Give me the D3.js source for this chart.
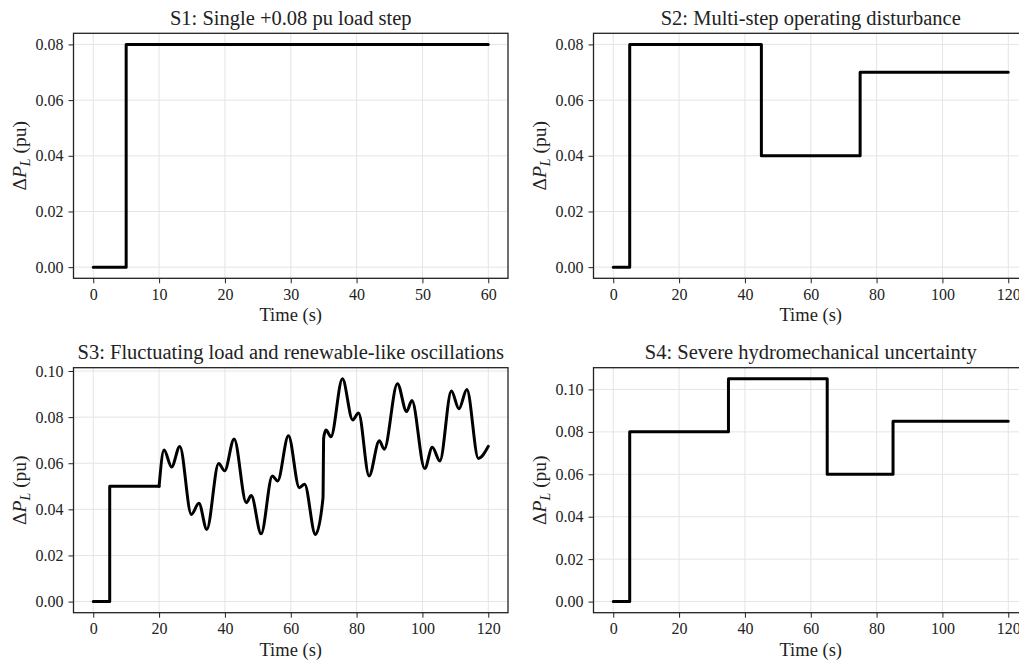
<!DOCTYPE html>
<html>
<head>
<meta charset="utf-8">
<script src="https://cdn.jsdelivr.net/npm/d3@7"></script>
<style>
  body { margin: 0; background: #fff; }
  svg { display: block; font-family: "Liberation Serif", "Times New Roman", serif; }
  .grid line { stroke: #e4e4e4; stroke-width: 1; }
  .axis line { stroke: #222; stroke-width: 1; }
  .axis text { font-size: 16px; fill: #222; font-family: "Liberation Serif", serif; }
</style>
</head>
<body>
<svg></svg>
<script>
// S1: single step
var s1Time = [0, 5, 60];
var s1Value = [0, 0.08, 0.08];

// S2: multi-step
var s2Time = [0, 5, 45, 75, 120];
var s2Value = [0, 0.08, 0.04, 0.07, 0.07];

var s3StepTime = [0, 5, 20];
var s3StepValue = [0, 0.05, 0.05];
var s3WaveTime = [20, 21.5, 23.8, 26.3, 29.8, 32.1, 34.5, 38.1, 39.9, 42.8,
                  46.5, 48.0, 51.0, 54.4, 56.0, 59.3, 62.6, 64.2, 67.5, 69.8,
                  70.0, 70.7, 72.2, 75.7, 78.8, 80.6, 83.8, 86.9, 88.4, 92.4,
                  95.2, 96.8, 100.7, 103.0, 105.3, 108.8, 111.1, 113.5, 117.0, 120];
var s3WaveValue = [0.050, 0.0657, 0.0584, 0.0673, 0.0378, 0.0426, 0.0313, 0.0599, 0.0567, 0.0705,
                   0.0429, 0.0460, 0.0294, 0.0545, 0.0523, 0.0719, 0.0494, 0.0509, 0.0291, 0.0450,
                   0.0710, 0.0744, 0.0715, 0.0966, 0.0788, 0.0818, 0.0545, 0.0697, 0.0661, 0.0945,
                   0.0824, 0.0872, 0.0577, 0.0669, 0.0610, 0.0913, 0.0836, 0.0920, 0.0621, 0.0673];

// S4: severe uncertainty steps
var s4Time = [0, 5, 35, 65, 85, 120];
var s4Value = [0, 0.08, 0.105, 0.06, 0.085, 0.085];

var titles = ["S1: Single +0.08 pu load step",
              "S2: Multi-step operating disturbance",
              "S3: Fluctuating load and renewable-like oscillations",
              "S4: Severe hydromechanical uncertainty"];
var xTicks60 = [0, 10, 20, 30, 40, 50, 60];
var xTicks120 = [0, 20, 40, 60, 80, 100, 120];
var yTicks08 = [0, 0.02, 0.04, 0.06, 0.08];
var yTicks10 = [0, 0.02, 0.04, 0.06, 0.08, 0.10];

var screen = { width: 1019, height: 662 };
var panelW = 434.5, panelH = 245;
var lefts = [73.5, 593.5];
var tops = [33.3, 367.7];

var svg = d3.select("svg")
            .attr("width", screen.width)
            .attr("height", screen.height);

var zip = function(xs, ys){
  return xs.map(function(t, i){ return { t: t, v: ys[i] }; });
};

var padded = function(lo, hi){
  var m = (hi - lo) * 0.05;
  return [lo - m, hi + m];
};

var drawPanel = function(cfg){
  var g = svg.append("g")
             .attr("transform", "translate(" + cfg.left + "," + cfg.top + ")");

  var allT = [], allV = [];
  cfg.series.forEach(function(s){
    s.data.forEach(function(d){ allT.push(d.t); allV.push(d.v); });
  });

  var xScale = d3.scaleLinear()
                 .domain(padded(d3.min(allT), d3.max(allT)))
                 .range([0, panelW]);
  var yScale = d3.scaleLinear()
                 .domain(padded(d3.min(allV), d3.max(allV)))
                 .range([panelH, 0]);

  // grid
  var grid = g.append("g").attr("class", "grid");
  grid.selectAll(".gx")
      .data(cfg.xTicks)
      .enter()
      .append("line")
      .attr("x1", function(d){ return xScale(d); })
      .attr("x2", function(d){ return xScale(d); })
      .attr("y1", 0)
      .attr("y2", panelH);
  grid.selectAll(".gy")
      .data(cfg.yTicks)
      .enter()
      .append("line")
      .attr("x1", 0)
      .attr("x2", panelW)
      .attr("y1", function(d){ return yScale(d); })
      .attr("y2", function(d){ return yScale(d); });

  // lines
  cfg.series.forEach(function(s){
    var line = d3.line()
                 .x(function(d){ return xScale(d.t); })
                 .y(function(d){ return yScale(d.v); })
                 .curve(s.curve);
    g.append("path")
     .datum(s.data)
     .attr("d", line)
     .attr("fill", "none")
     .attr("stroke", "#000")
     .attr("stroke-width", 3)
     .attr("stroke-linejoin", "round")
     .attr("stroke-linecap", "round");
  });

  // axes
  var xAxis = d3.axisBottom(xScale)
                .tickValues(cfg.xTicks)
                .tickSize(5)
                .tickPadding(5)
                .tickFormat(d3.format("d"));
  var yAxis = d3.axisLeft(yScale)
                .tickValues(cfg.yTicks)
                .tickSize(5)
                .tickPadding(5)
                .tickFormat(d3.format(".2f"));

  g.append("g")
   .attr("class", "axis")
   .attr("transform", "translate(0," + panelH + ")")
   .call(xAxis)
   .call(function(a){ a.select(".domain").remove(); });

  g.append("g")
   .attr("class", "axis")
   .call(yAxis)
   .call(function(a){ a.select(".domain").remove(); });

  // frame
  g.append("rect")
   .attr("x", 0)
   .attr("y", 0)
   .attr("width", panelW)
   .attr("height", panelH)
   .attr("fill", "none")
   .attr("stroke", "#222")
   .attr("stroke-width", 1.3);

  // title
  g.append("text")
   .attr("x", panelW / 2)
   .attr("y", -8.5)
   .attr("text-anchor", "middle")
   .attr("font-size", 20.5)
   .attr("fill", "#222")
   .text(cfg.title);

  // x label
  g.append("text")
   .attr("x", panelW / 2)
   .attr("y", panelH + 43)
   .attr("text-anchor", "middle")
   .attr("font-size", 18.5)
   .attr("fill", "#222")
   .text("Time (s)");

  // y label: ΔP_L (pu)
  var yl = g.append("text")
            .attr("transform", "translate(-48," + (panelH / 2) + ") rotate(-90)")
            .attr("text-anchor", "middle")
            .attr("font-size", 19.5)
            .attr("fill", "#222");
  yl.append("tspan").text("\u0394");
  yl.append("tspan").attr("font-style", "italic").text("P");
  yl.append("tspan").attr("font-style", "italic").attr("font-size", 14).attr("dy", 4).text("L");
  yl.append("tspan").attr("dy", -4).text(" (pu)");
};

drawPanel({
  left: lefts[0], top: tops[0], title: titles[0],
  xTicks: xTicks60, yTicks: yTicks08,
  series: [{ data: zip(s1Time, s1Value), curve: d3.curveStepAfter }]
});
drawPanel({
  left: lefts[1], top: tops[0], title: titles[1],
  xTicks: xTicks120, yTicks: yTicks08,
  series: [{ data: zip(s2Time, s2Value), curve: d3.curveStepAfter }]
});
drawPanel({
  left: lefts[0], top: tops[1], title: titles[2],
  xTicks: xTicks120, yTicks: yTicks10,
  series: [{ data: zip(s3StepTime, s3StepValue), curve: d3.curveStepAfter },
           { data: zip(s3WaveTime, s3WaveValue), curve: d3.curveMonotoneX }]
});
drawPanel({
  left: lefts[1], top: tops[1], title: titles[3],
  xTicks: xTicks120, yTicks: yTicks10,
  series: [{ data: zip(s4Time, s4Value), curve: d3.curveStepAfter }]
});
</script>
</body>
</html>
